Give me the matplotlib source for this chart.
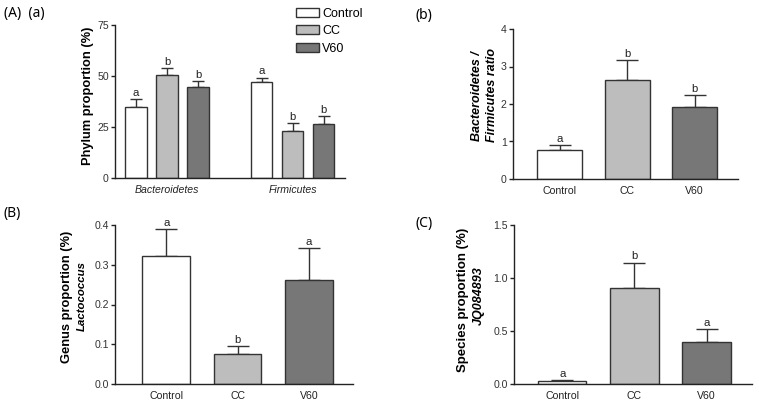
import matplotlib
matplotlib.use("Agg")
import matplotlib.pyplot as plt
from matplotlib.patches import Patch

plt.rcParams['font.family'] = ['Liberation Sans', 'DejaVu Sans']

W, H = 759, 409

groups = ["Control", "CC", "V60"]
colors = ["#ffffff", "#bdbdbd", "#777777"]
edge = "#333333"

# (a) phylum proportion
phyla = ["Bacteroidetes", "Firmicutes"]
phylum_mean = {"Control": [34.7, 47.0], "CC": [50.5, 22.8], "V60": [44.8, 26.4]}
phylum_err = {"Control": [4.1, 2.2], "CC": [3.5, 4.1], "V60": [2.8, 3.9]}
phylum_sig = {"Control": ["a", "a"], "CC": ["b", "b"], "V60": ["b", "b"]}

# (b) ratio
ratio_mean = [0.78, 2.65, 1.92]
ratio_err = [0.12, 0.51, 0.32]
ratio_sig = ["a", "b", "b"]

# (B) Lactococcus
lacto_mean = [0.321, 0.075, 0.261]
lacto_err = [0.068, 0.020, 0.080]
lacto_sig = ["a", "b", "a"]

# (C) JQ084893
jq_mean = [0.025, 0.904, 0.40]
jq_err = [0.013, 0.241, 0.118]
jq_sig = ["a", "b", "a"]

fig = plt.figure(figsize=(W / 100, H / 100), dpi=100)

TICK_FS = 7.6
SIG_FS = 8.2
LAB_FS = 9.3


def add_ax(x0, x1, ytop, ybot):
    return fig.add_axes([x0 / W, 1 - ybot / H, (x1 - x0) / W, (ybot - ytop) / H])


def style(ax):
    for s in ["top", "right"]:
        ax.spines[s].set_visible(False)
    for s in ["left", "bottom"]:
        ax.spines[s].set_linewidth(1.0)
        ax.spines[s].set_color("#222222")
    ax.tick_params(axis="y", length=3, width=1, labelsize=TICK_FS, colors="#222222",
                   labelcolor="#333333", pad=1.5)
    ax.tick_params(axis="x", length=0, labelsize=TICK_FS, labelcolor="#222222", pad=5)


def bars(ax, xs, means, errs, sigs, width, capsize, ymax):
    for x, m, e, s, c in zip(xs, means, errs, sigs, colors):
        ax.bar(x, m, width=width, color=c, edgecolor=edge, linewidth=1.0, zorder=2)
        ax.errorbar(x, m, yerr=[[0], [e]], fmt="none", ecolor=edge, elinewidth=1.0,
                    capsize=capsize, capthick=1.0, zorder=1)
        ax.text(x, m + e + ymax * 0.008, s, ha="center", va="bottom", fontsize=SIG_FS, color="#222222")


# ---- (a)
ax = add_ax(115, 345, 25, 178)
style(ax)
off = 4.05
for i, g in enumerate(groups):
    xs = [i, i + off]
    for j, x in enumerate(xs):
        ax.bar(x, phylum_mean[g][j], width=0.7, color=colors[i], edgecolor=edge, linewidth=1.0, zorder=2)
        ax.errorbar(x, phylum_mean[g][j], yerr=[[0], [phylum_err[g][j]]], fmt="none", ecolor=edge,
                    elinewidth=1.0, capsize=4, capthick=1.0, zorder=1)
        ax.text(x, phylum_mean[g][j] + phylum_err[g][j] + 0.6, phylum_sig[g][j], ha="center",
                va="bottom", fontsize=SIG_FS, color="#222222")
ax.set_xlim(-0.68, 6.74)
ax.set_ylim(0, 75)
ax.set_yticks([0, 25, 50, 75])
ax.set_xticks([1, 1 + off])
ax.set_xticklabels(phyla, style="italic")
fig.text(88 / W, 1 - 96 / H, "Phylum proportion (%)", rotation=90, ha="center", va="center",
         fontsize=LAB_FS, fontweight="bold")
handles = [Patch(facecolor=c, edgecolor=edge, linewidth=1.0) for c in colors]
fig.legend(handles, groups, loc="upper left", bbox_to_anchor=(296 / W, 1 - 8 / H), frameon=False,
           fontsize=9, handlelength=1.85, handleheight=0.75, labelspacing=0.42, handletextpad=0.25,
           borderpad=0, borderaxespad=0)

# ---- (b)
ax = add_ax(513, 738, 29, 179)
style(ax)
bars(ax, [0, 1, 2], ratio_mean, ratio_err, ratio_sig, 0.67, 8, 4)
ax.set_xlim(-0.69, 2.64)
ax.set_ylim(0, 4)
ax.set_yticks([0, 1, 2, 3, 4])
ax.set_xticks([0, 1, 2])
ax.set_xticklabels(groups)
fig.text(477 / W, 1 - 96 / H, "Bacteroidetes /", rotation=90, ha="center", va="center",
         fontsize=9.0, fontweight="bold", style="italic")
fig.text(492 / W, 1 - 95 / H, "Firmicutes ratio", rotation=90, ha="center", va="center",
         fontsize=9.0, fontweight="bold", style="italic")

# ---- (B)
ax = add_ax(115, 353, 225, 384)
style(ax)
bars(ax, [0, 1, 2], lacto_mean, lacto_err, lacto_sig, 0.67, 8, 0.4)
ax.set_xlim(-0.72, 2.62)
ax.set_ylim(0, 0.4)
ax.set_yticks([0, 0.1, 0.2, 0.3, 0.4])
ax.set_yticklabels(["0.0", "0.1", "0.2", "0.3", "0.4"])
ax.set_xticks([0, 1, 2])
ax.set_xticklabels(groups)
fig.text(67 / W, 1 - 297 / H, "Genus proportion (%)", rotation=90, ha="center", va="center",
         fontsize=LAB_FS, fontweight="bold")
fig.text(82 / W, 1 - 296 / H, "Lactococcus", rotation=90, ha="center", va="center",
         fontsize=8.2, fontweight="bold", style="italic")

# ---- (C)
ax = add_ax(514, 752, 225, 384)
style(ax)
bars(ax, [0, 1, 2], jq_mean, jq_err, jq_sig, 0.67, 8, 1.5)
ax.set_xlim(-0.67, 2.63)
ax.set_ylim(0, 1.5)
ax.set_yticks([0, 0.5, 1.0, 1.5])
ax.set_yticklabels(["0.0", "0.5", "1.0", "1.5"])
ax.set_xticks([0, 1, 2])
ax.set_xticklabels(groups)
fig.text(463 / W, 1 - 300 / H, "Species proportion (%)", rotation=90, ha="center", va="center",
         fontsize=9.5, fontweight="bold")
fig.text(479 / W, 1 - 296 / H, "JQ084893", rotation=90, ha="center", va="center",
         fontsize=9.0, fontweight="bold", style="italic")

# panel labels
pl = dict(fontsize=10, family=["Noto Sans", "DejaVu Sans"], va="center", ha="left")
fig.text(4 / W, 1 - 14 / H, "(A)  (a)", **pl)
fig.text(416 / W, 1 - 15 / H, "(b)", **pl)
fig.text(4 / W, 1 - 214 / H, "(B)", **pl)
fig.text(416 / W, 1 - 224 / H, "(C)", **pl)

fig.savefig("out.png", dpi=100)
